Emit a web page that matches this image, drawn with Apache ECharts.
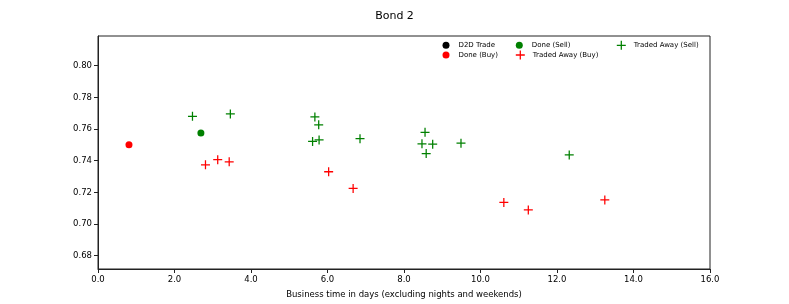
<!DOCTYPE html>
<html>
<head>
<meta charset="utf-8">
<script src="https://cdn.jsdelivr.net/npm/echarts@6/dist/echarts.min.js"></script>
<style>html,body{margin:0;padding:0;background:#fff;}#c{width:789px;height:304px;}</style>
</head>
<body>
<div id="c"></div>
<script>
// Data
const d2dTrade = [];
const doneBuy = [[0.81, 0.750]];
const doneSell = [[2.69, 0.7575]];
const tradedAwayBuy = [
  [2.81, 0.7374], [3.13, 0.7406], [3.43, 0.7393], [6.03, 0.7330], [6.67, 0.7225],
  [10.61, 0.7136], [11.25, 0.7089], [13.25, 0.7152]
];
const tradedAwaySell = [
  [2.47, 0.7680], [3.46, 0.7695], [5.67, 0.7676], [5.77, 0.7626], [5.61, 0.7521],
  [5.78, 0.7531], [6.85, 0.7539], [8.55, 0.7579], [8.47, 0.7506], [8.75, 0.7504],
  [8.58, 0.7445], [9.49, 0.7510], [12.32, 0.7436]
];
const yTicks = [0.68, 0.70, 0.72, 0.74, 0.76, 0.78, 0.80];
const xTicks = [0, 2, 4, 6, 8, 10, 12, 14, 16];

const PLUS = 'path://M43,0H57V43H100V57H57V100H43V57H0V43H43Z';
const FONT = 'DejaVu Sans';

function leg(name, icon, cx, cy, size) {
  return {
    data: [{name: name, icon: icon}],
    left: cx - 7.5, top: cy - size / 2,
    itemWidth: 15, itemHeight: size,
    padding: 0, selectedMode: false,
    textStyle: {fontFamily: FONT, fontSize: 7, color: '#000'}
  };
}

const chart = echarts.init(document.getElementById('c'), null, {renderer: 'canvas'});
chart.setOption({
  animation: false,
  backgroundColor: '#fff',
  title: {
    text: 'Bond 2', left: 'center', top: 6,
    textStyle: {fontFamily: FONT, fontSize: 11, fontWeight: 'normal', color: '#000'}
  },
  legend: [
    leg('D2D Trade', 'circle', 450, 45.3, 7),
    leg('Done (Buy)', 'circle', 450, 55, 7),
    leg('Done (Sell)', 'circle', 523.3, 45.3, 7),
    leg('Traded Away (Buy)', PLUS, 523.3, 55, 9),
    leg('Traded Away (Sell)', PLUS, 624.3, 45.3, 9)
  ],
  grid: {
    left: 98, right: 79, top: 36, bottom: 34,
    show: true, borderColor: '#222', borderWidth: 1, backgroundColor: 'transparent'
  },
  xAxis: {
    type: 'value', min: 0, max: 16, interval: 2,
    name: 'Business time in days (excluding nights and weekends)',
    nameLocation: 'middle', nameGap: 21,
    nameTextStyle: {fontFamily: FONT, fontSize: 8.5, color: '#000'},
    axisLine: {show: true, lineStyle: {color: '#222'}},
    axisTick: {show: true, length: 4, lineStyle: {color: '#222'}},
    axisLabel: {
      fontFamily: FONT, fontSize: 8.5, color: '#000', margin: 6,
      customValues: xTicks,
      formatter: v => v.toFixed(1)
    },
    splitLine: {show: false}
  },
  yAxis: {
    type: 'value', min: 0.6716, max: 0.8187,
    axisLine: {show: true, lineStyle: {color: '#222'}},
    axisTick: {show: true, length: 4, lineStyle: {color: '#222'}, customValues: yTicks},
    axisLabel: {
      fontFamily: FONT, fontSize: 8.5, color: '#000', margin: 6,
      customValues: yTicks,
      formatter: v => v.toFixed(2)
    },
    splitLine: {show: false}
  },
  series: [
    {name: 'D2D Trade', type: 'scatter', data: d2dTrade, symbol: 'circle', symbolSize: 7, itemStyle: {color: '#000000', opacity: 1}},
    {name: 'Done (Buy)', type: 'scatter', data: doneBuy, symbol: 'circle', symbolSize: 7, itemStyle: {color: '#ff0000', opacity: 1}},
    {name: 'Done (Sell)', type: 'scatter', data: doneSell, symbol: 'circle', symbolSize: 7, itemStyle: {color: '#008000', opacity: 1}},
    {name: 'Traded Away (Buy)', type: 'scatter', data: tradedAwayBuy, symbol: PLUS, symbolSize: 9, itemStyle: {color: '#ff0000', opacity: 1}},
    {name: 'Traded Away (Sell)', type: 'scatter', data: tradedAwaySell, symbol: PLUS, symbolSize: 9, itemStyle: {color: '#008000', opacity: 1}}
  ]
});
</script>
</body>
</html>
